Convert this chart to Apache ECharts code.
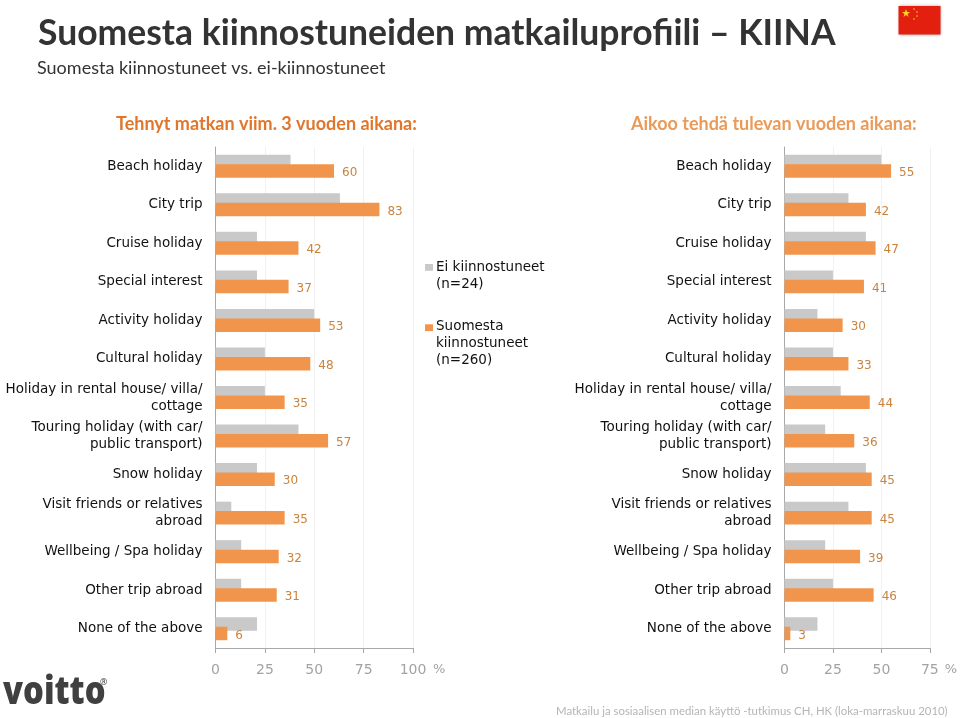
<!DOCTYPE html>
<html><head><meta charset="utf-8">
<style>html,body{margin:0;padding:0;background:#fff}#c{width:960px;height:718px}</style>
<script src="https://cdn.jsdelivr.net/npm/echarts@6/dist/echarts.min.js"></script>
</head><body><div id="c"></div>
<script>
const categories = ['Beach holiday','City trip','Cruise holiday','Special interest','Activity holiday','Cultural holiday','Holiday in rental house/ villa/\ncottage','Touring holiday (with car/\npublic transport)','Snow holiday','Visit friends or relatives\nabroad','Wellbeing / Spa holiday','Other trip abroad','None of the above'];
const pastGray = [38,63,21,21,50,25,25,42,21,8,13,13,21];
const pastOrange = [60,83,42,37,53,48,35,57,30,35,32,31,6];
const futureGray = [50,33,42,25,17,25,29,21,42,33,21,25,17];
const futureOrange = [55,42,47,41,30,33,44,36,45,45,39,46,3];
const grayName = 'Ei kiinnostuneet (n=24)';
const orangeName = 'Suomesta kiinnostuneet (n=260)';

const GRAY='#c9c9c9', ORANGE='#f2954c', LABEL='#c8843f', AXIS='#a8a8a8', TICKTXT='#a3a3a3';
const chart = echarts.init(document.getElementById('c'));
const labelFont = 'DejaVu Sans', headFont = 'Lato';
function xAxis(idx,max){return {gridIndex:idx,type:'value',min:0,max:max,interval:25,
  name:'%',nameLocation:'end',nameGap:idx===0?20:14,
  nameTextStyle:{color:TICKTXT,fontFamily:labelFont,fontSize:13,verticalAlign:'top',padding:[15,0,0,0]},
  axisLine:{show:true,lineStyle:{color:AXIS,width:1}},
  axisTick:{show:true,length:5,lineStyle:{color:AXIS}},
  axisLabel:{color:TICKTXT,fontFamily:labelFont,fontSize:14,margin:15},
  splitLine:{show:true,lineStyle:{color:'#f1f1f1',width:1}}};}
function yAxis(idx){return {gridIndex:idx,type:'category',inverse:true,data:categories,
  axisLine:{show:true,onZero:false,lineStyle:{color:AXIS,width:1}},axisTick:{show:false},
  axisLabel:{color:'#111',fontFamily:labelFont,fontSize:13.5,lineHeight:17,margin:13,align:'right',hideOverlap:false,interval:0}};}
function bars(name,data,idx,color,withLabel){return {name:name,type:'bar',xAxisIndex:idx,yAxisIndex:idx,data:data,
  barWidth:13.5,barGap:'-30%',itemStyle:{color:color},animation:false,
  label:withLabel?{show:true,position:'right',distance:8,offset:[0,2],color:LABEL,fontFamily:labelFont,fontSize:12}:{show:false}};}
function legend(name,top,lines){return {data:[{name:name}],orient:'vertical',left:420,top:top,selectedMode:false,
  itemWidth:8,itemHeight:lines*17,itemGap:0,
  icon:'path://M0 3H10V11.5H0Z M0 0 M0 '+(lines*18),
  formatter:n=>lines===2?n.replace(' (','\n('):n.replace(' kiin','\nkiin').replace(' (','\n('),
  textStyle:{color:'#111',fontFamily:labelFont,fontSize:13.5,lineHeight:17,padding:[0,0,0,-2]}};}

chart.setOption({
  backgroundColor:'#fff',animation:false,
  title:[
    {text:'Suomesta kiinnostuneiden matkailuprofiili – KIINA',left:33,top:11,textStyle:{color:'#333',fontFamily:headFont,fontSize:35.5,fontWeight:700}},
    {text:'Suomesta kiinnostuneet vs. ei-kiinnostuneet',left:32,top:54,textStyle:{color:'#333',fontFamily:headFont,fontSize:18,fontWeight:400}},
    {text:'Tehnyt matkan viim. 3 vuoden aikana:',left:111,top:110,textStyle:{color:'#e0762b',fontFamily:headFont,fontSize:18,fontWeight:700}},
    {text:'Aikoo tehdä tulevan vuoden aikana:',left:626,top:110,textStyle:{color:'#ea9a59',fontFamily:headFont,fontSize:18,fontWeight:700}},
    {text:'Matkailu ja sosiaalisen median käyttö -tutkimus CH, HK (loka-marraskuu 2010)',left:551,top:701,textStyle:{color:'#b5b5b5',fontFamily:headFont,fontSize:11.4,fontWeight:400}}
  ],
  legend:[legend(grayName,254,2),legend(orangeName,313,3)],
  grid:[
    {left:215.5,width:197.5,top:147,height:501,containLabel:false},
    {left:784.5,width:148,top:147,height:501,containLabel:false}
  ],
  xAxis:[xAxis(0,100),xAxis(1,75)],
  yAxis:[yAxis(0),yAxis(1)],
  series:[
    bars(grayName,pastGray,0,GRAY,false),
    bars(orangeName,pastOrange,0,ORANGE,true),
    bars(grayName,futureGray,1,GRAY,false),
    bars(orangeName,futureOrange,1,ORANGE,true)
  ],
  graphic:[
    {type:'rect',shape:{x:898.5,y:6,width:42,height:28.5},style:{fill:'#e3200f',shadowBlur:3,shadowColor:'rgba(0,0,0,0.35)'}},
    {type:'polygon',shape:{points:[[906,9],[907,12],[910,12],[907.6,13.9],[908.5,17],[906,15.1],[903.5,17],[904.4,13.9],[902,12],[905,12]]},style:{fill:'#ffd21e'}},
    {type:'circle',shape:{cx:914,cy:9,r:0.8},style:{fill:'#ffd21e'}},
    {type:'circle',shape:{cx:917,cy:12,r:0.8},style:{fill:'#ffd21e'}},
    {type:'circle',shape:{cx:917,cy:16,r:0.8},style:{fill:'#ffd21e'}},
    {type:'circle',shape:{cx:914,cy:19,r:0.8},style:{fill:'#ffd21e'}},
    {type:'text',x:3,y:673,scaleX:0.84,style:{text:'voitto',fill:'#404040',font:'800 39px "Open Sans"'}},
    {type:'text',x:100,y:678,style:{text:'®',fill:'#404040',font:'9px "Open Sans"'}}
  ]
});
</script></body></html>
